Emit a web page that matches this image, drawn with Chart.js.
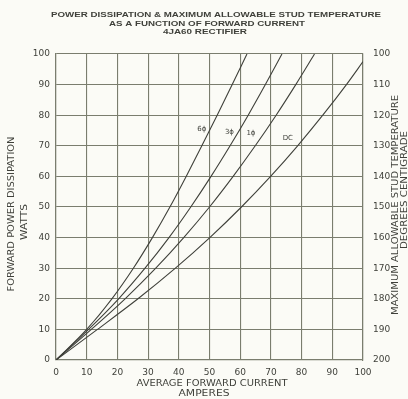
<!DOCTYPE html>
<html>
<head>
<meta charset="utf-8">
<script src="https://cdn.jsdelivr.net/npm/chart.js@4/dist/chart.umd.min.js"></script>
<style>
  html, body { margin: 0; padding: 0; background: #fbfbf6; }
  #chart { display: block; }
</style>
</head>
<body>
<canvas id="chart" width="408" height="399"></canvas>
<script>
// watts, amperes where each curve crosses them
const wattLevels = [0, 10, 20, 30, 40, 50, 60, 70, 80, 90, 100];
const amps6ph = [0, 10, 18.2, 25.2, 31.4, 37.1, 42.4, 47.5, 52.5, 57.4, 62.2];
const amps3ph = [0, 10.6, 20.4, 29, 36.8, 43.9, 50.5, 56.7, 62.6, 68.2, 73.6];
const amps1ph = [0, 11.5, 22.5, 32.5, 41.6, 50, 57.7, 64.9, 71.7, 78.1, 84.2];
const dcWatts = [0, 10, 20, 30, 40, 50, 60, 70, 80, 90, 97.5];
const ampsDC = [0, 13.5, 26.7, 38.9, 50.1, 60.4, 69.9, 78.7, 86.9, 94.6, 100];

const xTickLabels = ["0", "10", "20", "30", "40", "50", "60", "70", "80", "90", "100"];
const yTickLabels = ["0", "10", "20", "30", "40", "50", "60", "70", "80", "90", "100"];
const tempTickLabels = ["100", "110", "120", "130", "140", "150", "160", "170", "180", "190", "200"];

const curveLabels = ["6\u03D5", "3\u03D5", "1\u03D5", "DC"];

const ink = "#3f403a";
const gridColor = "#7a7d6e";

const pairs = (xs, ys) => xs.map((x, i) => ({ x: x, y: ys[i] }));

// titles and curve labels, drawn straight on the canvas
const textPlugin = {
  id: "texts",
  afterDraw(chart) {
    const ctx = chart.ctx;
    const fit = (text, x, y, width, font, rot) => {
      ctx.save();
      ctx.font = font;
      ctx.fillStyle = ink;
      ctx.textAlign = "center";
      ctx.textBaseline = "middle";
      ctx.translate(x, y);
      if (rot) ctx.rotate(rot);
      const w = ctx.measureText(text).width;
      ctx.scale(width / w, 1);
      ctx.fillText(text, 0, 0);
      ctx.restore();
    };
    const f = "bold 8px 'Liberation Sans', Arial, sans-serif";
    const g = "8px 'DejaVu Sans', sans-serif";
    fit("POWER DISSIPATION & MAXIMUM ALLOWABLE STUD TEMPERATURE", 216, 15, 330, f);
    fit("AS A FUNCTION OF FORWARD CURRENT", 207, 24, 196, f);
    fit("4JA60 RECTIFIER", 205, 32, 84, f);

    fit("AVERAGE FORWARD CURRENT", 212, 384, 151, g);
    fit("AMPERES", 204, 394, 51, g);

    fit("FORWARD POWER DISSIPATION", 12, 214, 155, g, -Math.PI / 2);
    fit("WATTS", 25, 222, 36, g, -Math.PI / 2);

    fit("MAXIMUM ALLOWABLE STUD TEMPERATURE", 396, 205, 220, g, -Math.PI / 2);
    fit("DEGREES CENTIGRADE", 405, 190, 118, g, -Math.PI / 2);

    // curve names placed beside each line at about 75 W
    const xs = chart.scales.x, ys = chart.scales.y;
    const at = [[47.5, 75.5], [56.5, 74.5], [63.5, 74], [75.5, 72.5]];
    ctx.save();
    ctx.font = "7px 'DejaVu Sans', sans-serif";
    ctx.fillStyle = ink;
    ctx.textAlign = "center";
    ctx.textBaseline = "middle";
    curveLabels.forEach((t, i) => {
      ctx.fillText(t, xs.getPixelForValue(at[i][0]), ys.getPixelForValue(at[i][1]));
    });
    ctx.restore();
  }
};

const lineStyle = {
  borderColor: ink,
  borderWidth: 1.1,
  pointRadius: 0,
  showLine: true,
  fill: false,
  cubicInterpolationMode: "monotone"
};

new Chart(document.getElementById("chart"), {
  type: "scatter",
  data: {
    datasets: [
      { ...lineStyle, label: curveLabels[0], data: pairs(amps6ph, wattLevels) },
      { ...lineStyle, label: curveLabels[1], data: pairs(amps3ph, wattLevels) },
      { ...lineStyle, label: curveLabels[2], data: pairs(amps1ph, wattLevels) },
      { ...lineStyle, label: curveLabels[3], data: pairs(ampsDC, dcWatts) }
    ]
  },
  options: {
    responsive: false,
    animation: false,
    layout: { padding: { top: 54, left: 0, right: 0, bottom: 0 } },
    plugins: {
      legend: { display: false },
      tooltip: { enabled: false }
    },
    scales: {
      x: {
        type: "linear",
        min: 0,
        max: 100,
        afterFit: (s) => { s.height = 39; },
        grid: { color: gridColor, lineWidth: 1.1, drawTicks: false },
        border: { color: gridColor, width: 1.2 },
        ticks: {
          stepSize: 10,
          padding: 7,
          color: ink,
          maxRotation: 0,
          font: { family: "'DejaVu Sans', sans-serif", size: 9 },
          callback: (v) => xTickLabels[Math.round(v / 10)]
        }
      },
      y: {
        type: "linear",
        position: "left",
        min: 0,
        max: 100,
        afterFit: (s) => { s.width = 56; },
        grid: { color: gridColor, lineWidth: 1.1, drawTicks: false },
        border: { color: gridColor, width: 1.2 },
        ticks: {
          stepSize: 10,
          padding: 6,
          color: ink,
          font: { family: "'DejaVu Sans', sans-serif", size: 9 },
          callback: (v) => yTickLabels[Math.round(v / 10)]
        }
      },
      y2: {
        type: "linear",
        position: "right",
        min: 100,
        max: 200,
        reverse: true,
        afterFit: (s) => { s.width = 45; },
        grid: { drawOnChartArea: false, drawTicks: false },
        border: { color: gridColor, width: 1.2 },
        ticks: {
          stepSize: 10,
          padding: 10,
          color: ink,
          font: { family: "'DejaVu Sans', sans-serif", size: 9 },
          callback: (v) => tempTickLabels[Math.round((v - 100) / 10)]
        }
      }
    }
  },
  plugins: [textPlugin]
});
</script>
</body>
</html>
